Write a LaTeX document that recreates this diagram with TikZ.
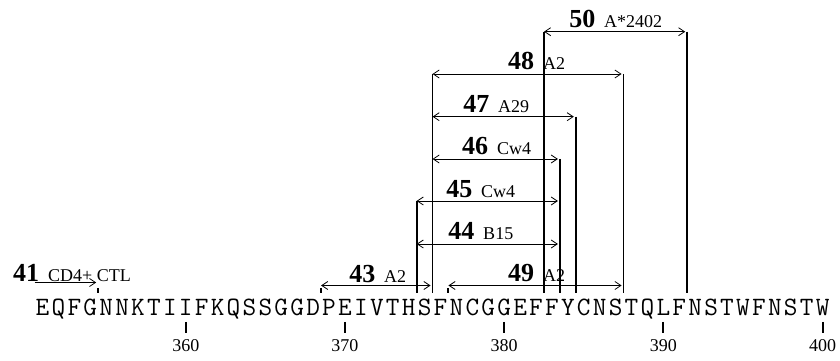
\documentclass[tikz,border=0pt]{standalone}
\usepackage{fontspec}
\setmainfont{Liberation Serif}
\usetikzlibrary{arrows.meta,positioning}

\tikzset{
  barb/.tip={Straight Barb[length=6pt,width=8pt]},
  res/.style={font=\ttfamily\fontsize{26.5}{26.5}\selectfont, anchor=base, inner sep=0pt},
  num/.style={font=\bfseries\fontsize{26}{26}\selectfont, anchor=base west, inner sep=0pt},
  hla/.style={font=\fontsize{18}{18}\selectfont, inner sep=0pt},
  axnum/.style={font=\fontsize{18}{18}\selectfont, anchor=base, inner sep=0pt},
  span/.style={line width=0.8pt, {barb}-{barb}, shorten >=2pt},
  bound/.style={line width=1.8pt},
  endtick/.style={line width=2pt},
  axtick/.style={line width=2pt},
}

\begin{document}
\begin{tikzpicture}[x=15.92pt, y=1pt]
\fill[white] (348.335,0) rectangle (401.099,361);
\useasboundingbox (348.335,0) rectangle (401.099,361);

\coordinate (base) at (360,68);

% sequence
\foreach \c [count=\i from 351] in {E,Q,F,G,N,N,K,T,I,I,F,K,Q,S,S,G,G,D,P,E,I,V,T,H,S,F,N,C,G,G,E,F,F,Y,C,N,S,T,Q,L,F,N,S,T,W,F,N,S,T,W}
  \node[res] (r\i) at (\i,45) {\c};

% axis
\foreach \n in {360,370,...,400}{
  \draw[axtick] (\n,39) -- (\n,28);
  \node[axnum] (t\n) at (\n,9) {\n};
}

% epitopes
\foreach \id/\from/\to/\lev in {50/382.5/391.5/329.3, 48/375.5/387.5/287, 47/375.5/384.5/244.3, 46/375.5/383.5/202, 45/374.5/383.5/160, 44/374.5/383.5/117, 43/368.5/375.5/75.5, 49/376.5/387.5/75.5}{
  \coordinate (a\id) at (\from,\lev);
  \coordinate (b\id) at (\to,\lev);
  \draw[span] (a\id) -- (b\id);
}
\coordinate (a41) at (350.5,78.5);
\coordinate (b41) at (354.5,78.5);
\draw[line width=0.8pt, -{barb}, shorten >=2pt] (a41) -- (b41);

% borders
\draw[bound] (a45) -- (a45 |- base);
\draw[bound] (a48) -- (a48 |- base);
\draw[bound] (a50) -- (a50 |- base);
\draw[bound] (b46) -- (b46 |- base);
\draw[bound] (b47) -- (b47 |- base);
\draw[bound] (b48) -- (b48 |- base);
\draw[bound] (b50) -- (b50 |- base);
\draw[endtick] (b41 |- base) -- ++(0,5);
\draw[endtick] (a43 |- base) -- ++(0,5);
\draw[endtick] (a49 |- base) -- ++(0,5);

% labels
\foreach \id/\nx/\ny/\allele in {50/384.08/333/A*2402, 48/380.24/291/A2, 47/377.42/248/A29, 46/377.35/206/Cw4, 45/376.35/163.5/Cw4, 44/376.48/121/B15, 43/370.26/78.5/A2, 49/380.24/79/A2, 41/349.15/79.5/CD4+ CTL}{
  \node[num] (n\id) at (\nx,\ny) {\id};
  \node[hla, right=8.5pt of n\id.base east, anchor=base west] (h\id) {\allele};
}
\end{tikzpicture}
\end{document}
